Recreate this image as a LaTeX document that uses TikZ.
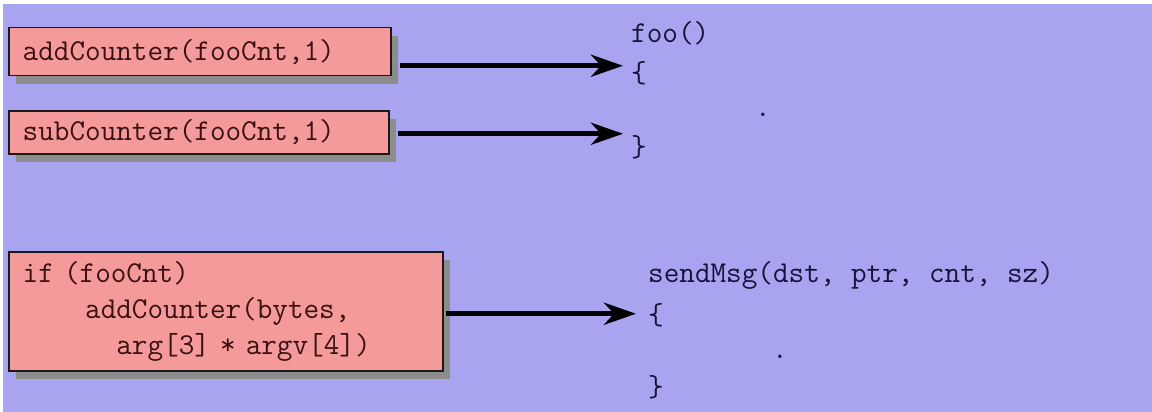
\documentclass[tikz,border=0pt]{standalone}
\usepackage{fontspec}
\usetikzlibrary{arrows.meta, shadows}

\definecolor{bglavender}{HTML}{A8A4F0}
\definecolor{boxpink}{HTML}{F49A9A}
\definecolor{boxtext}{HTML}{3A1010}
\definecolor{codetext}{HTML}{14143A}

\tikzset{
	callbox/.style={draw=black!90, line width=1.5pt, fill=boxpink, anchor=north west,
		inner xsep=14pt, inner ysep=0pt, align=left, text=boxtext,
		font=\ttfamily\fontsize{30.3}{36}\selectfont,
		drop shadow={shadow xshift=7pt, shadow yshift=-8pt, fill=black!45, opacity=1}},
	code/.style={anchor=west, inner sep=0pt, text=codetext,
		font=\ttfamily\fontsize{30.3}{36}\selectfont},
	arr/.style={line width=5pt, -{Stealth[length=32pt, width=22pt, inset=10pt]}}
}

\begin{document}
\begin{tikzpicture}[x=1pt, y=-1pt]
	\useasboundingbox (0, 0) rectangle (1152, 412);
	% Background
	\fill[white] (0, 0) rectangle (1152, 412);
	\fill[bglavender] (3, 4) rectangle (1152, 412);

	% Calls on the left
	\node[callbox, text width=354pt, minimum height=48pt] (add) at (8, 27) {addCounter(fooCnt,1)};
	\node[callbox, text width=352pt, minimum height=43pt] (sub) at (8, 110) {subCounter(fooCnt,1)};
	\node[callbox, text width=406pt, minimum height=119pt] (cond) at (8, 251)
		{if (fooCnt)\\ \phantom{0000}addCounter(bytes,\\ \phantom{000000}arg[3] * argv[4])};

	% foo() body
	\node[code] (foo) at (631, 33) {foo()};
	\node[code] (foolb) at (631, 73) {\{};
	\node[code, anchor=center] (foodot) at (763, 115) {.};
	\node[code] (foorb) at (631, 147) {\}};

	% sendMsg() body
	\node[code] (send) at (648, 275) {sendMsg(dst, ptr, cnt, sz)};
	\node[code] (sendlb) at (648, 315) {\{};
	\node[code, anchor=center] (senddot) at (780, 357) {.};
	\node[code] (sendrb) at (648, 387) {\}};

	% Arrows
	\draw[arr, shorten <=8pt, shorten >=8pt] ([yshift=-14pt]add.east) -- ([yshift=-14pt]add.east -| foolb.west);
	\draw[arr, shorten <=8pt, shorten >=8pt] ([yshift=-1.5pt]sub.east) -- ([yshift=-1.5pt]sub.east -| foorb.west);
	\draw[arr, shorten <=2pt, shorten >=12pt] ([yshift=-2.5pt]cond.east) -- ([yshift=-2.5pt]cond.east -| sendlb.west);
\end{tikzpicture}
\end{document}
